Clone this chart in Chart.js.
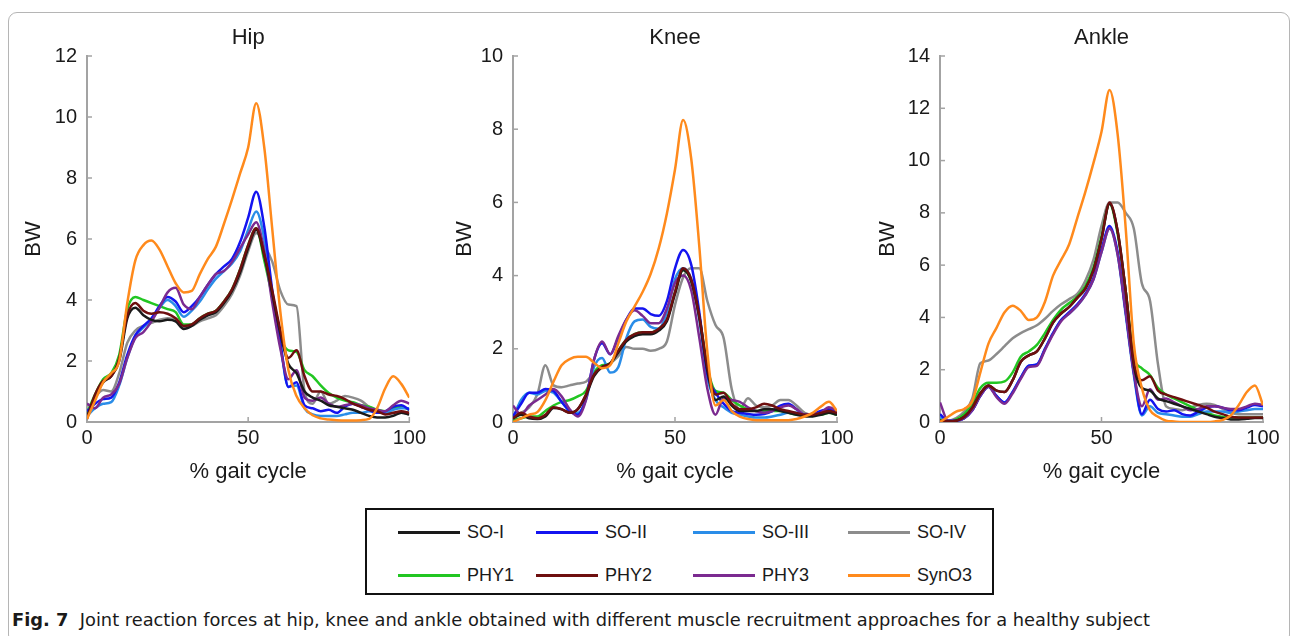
<!DOCTYPE html>
<html>
<head>
<meta charset="utf-8">
<script src="https://cdn.jsdelivr.net/npm/chart.js"></script>
<style>
  body { margin: 0; width: 1295px; height: 636px; background: #fff; position: relative; overflow: hidden;
         font-family: "Liberation Sans", Arial, sans-serif; color: #1a1a1a; }
  .frame { position: absolute; left: 8px; top: 12px; width: 1280px; height: 630px;
           border: 1px solid #b5b5b5; border-radius: 9px; }
  .panel { position: absolute; top: 0; }
  #legendBox { position: absolute; left: 365px; top: 508px; width: 629px; height: 87px;
               box-sizing: border-box; border: 2.5px solid #111; }
  .swatch { position: absolute; height: 3px; width: 62px; }
  .lbl { position: absolute; font-size: 18px; line-height: 20px; white-space: nowrap; }
  #caption { position: absolute; left: 12px; top: 608px; font-size: 18px; line-height: 24px; white-space: nowrap;
             font-family: "Liberation Sans Narrow", "DejaVu Sans Condensed", "Liberation Sans", sans-serif;
             transform-origin: 0 0; }
  #caption b { font-weight: bold; }
</style>
</head>
<body>
<div class="frame"></div>
<canvas id="hipChart" class="panel" style="left:0px" width="430" height="500"></canvas>
<canvas id="kneeChart" class="panel" style="left:430px" width="430" height="500"></canvas>
<canvas id="ankleChart" class="panel" style="left:860px" width="435" height="500"></canvas>
<div id="legendBox"></div>
<div id="legendItems"></div>
<div id="caption"><b>Fig. 7</b>&nbsp;&nbsp;Joint reaction forces at hip, knee and ankle obtained with different muscle recruitment approaches for a healthy subject</div>

<script>
// % gait cycle (shared x positions)
const gaitPct = [0, 2.5, 5, 7.5, 10, 12.5, 15, 17.5, 20, 22.5, 25, 27.5, 30, 32.5, 35, 37.5, 40, 42.5, 45, 47.5,
  50, 52.5, 55, 57.5, 60, 62.5, 65, 67.5, 70, 72.5, 75, 77.5, 80, 82.5, 85, 87.5, 90, 92.5, 95, 97.5, 100];

const seriesNames = ['SO-I', 'SO-II', 'SO-III', 'SO-IV', 'PHY1', 'PHY2', 'PHY3', 'SynO3'];
const seriesColors = ['#1a1a1a', '#1414f0', '#2a8de8', '#8c8c8c', '#22c622', '#6e0f0f', '#7b2a90', '#ff8a1c'];
const drawOrder = [3, 5, 6, 8, 7, 2, 4, 1];

// Hip (BW)
const hipSO1 = [0.15,0.85,1.3,1.5,2.0, 3.4,3.75,3.5,3.35,3.3, 3.35,3.3,3.05,3.15,3.35, 3.5,3.6,3.9,4.3,4.9,
  5.7,6.3,5.45,4.2,2.9, 1.9,1.6,1.0,0.8,0.7, 0.55,0.5,0.45,0.4,0.3, 0.2,0.15,0.15,0.2,0.3, 0.25];
const hipSO2 = [0.35,0.6,0.75,0.8,1.3, 2.2,2.85,3.15,3.4,3.8, 4.1,3.95,3.6,3.8,4.1, 4.5,4.85,5.1,5.35,5.9,
  6.7,7.55,6.4,4.3,2.6, 1.15,1.3,0.55,0.45,0.35, 0.4,0.3,0.5,0.6,0.5, 0.4,0.3,0.35,0.5,0.55, 0.4];
const hipSO3 = [0.2,0.45,0.6,0.65,1.2, 2.1,2.8,3.1,3.35,3.75, 4.0,3.8,3.45,3.65,3.95, 4.35,4.7,4.95,5.2,5.6,
  6.3,6.9,6.0,4.1,2.5, 1.15,1.2,0.45,0.25,0.2, 0.2,0.2,0.25,0.3,0.3, 0.35,0.3,0.3,0.4,0.45, 0.45];
const hipSO4 = [0.3,0.8,1.05,1.0,1.6, 2.6,3.0,3.15,3.25,3.35, 3.4,3.35,3.1,3.15,3.3, 3.4,3.5,3.8,4.2,4.8,
  5.6,6.2,5.8,5.25,4.3, 3.85,3.8,1.0,0.6,1.0, 0.6,0.7,0.85,0.8,0.7, 0.5,0.35,0.3,0.28,0.3, 0.25];
const hipPHY1 = [0.3,0.9,1.4,1.6,2.2, 3.7,4.1,4.0,3.9,3.8, 3.7,3.6,3.2,3.2,3.4, 3.55,3.65,3.95,4.35,5.0,
  5.8,6.35,5.3,4.1,2.8, 2.35,2.3,1.7,1.5,1.2, 0.95,0.8,0.7,0.65,0.55, 0.5,0.4,0.35,0.45,0.5, 0.4];
const hipPHY2 = [0.1,0.9,1.35,1.5,2.1, 3.5,3.9,3.65,3.55,3.6, 3.55,3.4,3.15,3.2,3.4, 3.55,3.65,3.95,4.35,5.0,
  5.8,6.35,5.5,4.3,3.0, 2.1,2.35,1.5,1.0,1.0, 0.9,0.85,0.75,0.6,0.5, 0.4,0.35,0.25,0.3,0.35, 0.3];
const hipPHY3 = [0.6,0.45,0.8,0.9,1.25, 2.1,2.75,2.95,3.3,3.75, 4.25,4.4,3.85,3.7,4.1, 4.5,4.85,4.95,5.25,5.7,
  6.15,6.55,5.6,3.9,2.4, 1.4,1.7,0.8,0.7,0.8, 0.6,0.5,0.55,0.6,0.55, 0.45,0.4,0.35,0.55,0.7, 0.6];
const hipSynO3 = [0.1,0.7,1.3,1.6,2.0, 3.9,5.3,5.8,5.95,5.65, 5.1,4.55,4.25,4.3,4.85, 5.35,5.75,6.5,7.3,8.15,
  9.0,10.45,9.0,6.3,3.6, 1.7,0.85,0.45,0.22,0.12, 0.08,0.06,0.05,0.05,0.06, 0.1,0.45,1.1,1.5,1.25, 0.8];

// Knee (BW)
const kneeSO1 = [0.1,0.2,0.1,0.08,0.15, 0.38,0.35,0.25,0.35,0.72, 1.25,1.5,1.6,1.9,2.2, 2.35,2.4,2.4,2.5,2.75,
  3.5,4.15,3.85,2.85,1.4, 0.6,0.7,0.45,0.3,0.3, 0.3,0.35,0.35,0.3,0.25, 0.2,0.15,0.15,0.2,0.25, 0.2];
const kneeSO2 = [0.15,0.5,0.8,0.8,0.9, 0.85,0.55,0.3,0.2,0.65, 1.7,2.15,1.85,2.3,2.8, 3.1,3.1,2.95,2.9,3.3,
  4.2,4.7,4.3,3.0,1.3, 0.8,0.5,0.3,0.25,0.22, 0.2,0.22,0.3,0.45,0.5, 0.35,0.2,0.22,0.3,0.35, 0.25];
const kneeSO3 = [0.1,0.6,0.8,0.75,0.85, 0.8,0.55,0.3,0.25,0.6, 1.5,1.75,1.35,1.5,2.3, 2.75,2.8,2.6,2.55,3.0,
  3.9,4.2,3.9,2.8,1.2, 0.6,0.4,0.25,0.2,0.15, 0.12,0.12,0.15,0.2,0.25, 0.25,0.2,0.2,0.25,0.3, 0.25];
const kneeSO4 = [0.2,0.25,0.4,0.75,1.55, 1.0,0.95,1.0,1.05,1.1, 1.35,1.5,1.6,1.8,2.05, 2.0,2.0,1.95,2.0,2.2,
  3.2,3.95,4.2,4.2,3.3, 2.65,2.3,0.9,0.35,0.65, 0.45,0.4,0.45,0.6,0.6, 0.45,0.25,0.2,0.22,0.25, 0.27];
const kneePHY1 = [0.05,0.1,0.15,0.15,0.3, 0.45,0.55,0.6,0.7,0.85, 1.35,1.55,1.6,1.95,2.25, 2.4,2.45,2.45,2.55,2.8,
  3.55,4.15,3.85,2.9,1.5, 0.85,0.8,0.6,0.45,0.35, 0.3,0.3,0.3,0.3,0.25, 0.2,0.2,0.2,0.2,0.25, 0.2];
const kneePHY2 = [0.1,0.25,0.15,0.1,0.2, 0.4,0.35,0.25,0.35,0.75, 1.3,1.5,1.6,1.95,2.25, 2.4,2.45,2.45,2.55,2.8,
  3.55,4.2,3.9,2.9,1.5, 0.75,0.8,0.5,0.35,0.35, 0.4,0.5,0.45,0.35,0.3, 0.25,0.2,0.2,0.25,0.3, 0.25];
const kneePHY3 = [0.45,0.2,0.45,0.6,0.75, 0.9,0.7,0.35,0.15,0.6, 1.7,2.2,1.85,2.35,2.8, 3.05,2.9,2.7,2.7,3.1,
  3.8,4.0,3.6,2.3,0.9, 0.2,0.65,0.6,0.55,0.4, 0.3,0.25,0.3,0.4,0.45, 0.35,0.2,0.22,0.25,0.4, 0.3];
const kneeSynO3 = [0,0.1,0.2,0.27,0.6, 1.1,1.55,1.72,1.78,1.78, 1.62,1.47,1.55,2.15,2.75, 3.15,3.55,4.05,4.75,5.7,
  6.9,8.25,7.2,4.8,1.9, 0.45,0.6,0.3,0.15,0.08, 0.05,0.05,0.05,0.05,0.05, 0.08,0.15,0.25,0.42,0.55, 0.3];

// Ankle (BW)
const ankleSO1 = [0.05,0.02,0.05,0.2,0.55, 1.1,1.4,1.2,1.15,1.6, 2.3,2.55,2.7,3.2,3.8, 4.15,4.4,4.75,5.1,5.8,
  7.0,8.35,7.3,5.0,2.2, 1.3,1.2,0.9,0.8,0.7, 0.6,0.5,0.4,0.3,0.2, 0.15,0.1,0.1,0.12,0.15, 0.15];
const ankleSO2 = [0.3,0.05,0.05,0.15,0.45, 1.0,1.35,1.0,0.75,1.15, 1.7,2.15,2.2,2.8,3.4, 3.9,4.2,4.5,4.9,5.5,
  6.6,7.5,6.5,4.2,1.9, 0.3,0.85,0.5,0.4,0.45, 0.3,0.25,0.4,0.55,0.6, 0.55,0.45,0.45,0.55,0.65, 0.6];
const ankleSO3 = [0.2,0.05,0.05,0.15,0.45, 1.0,1.35,1.0,0.75,1.15, 1.7,2.15,2.2,2.8,3.4, 3.9,4.15,4.45,4.85,5.45,
  6.5,7.4,6.4,4.1,1.8, 0.25,0.6,0.35,0.3,0.25, 0.2,0.2,0.3,0.4,0.4, 0.4,0.35,0.4,0.45,0.5, 0.5];
const ankleSO4 = [0.05,0.05,0.15,0.4,0.9, 2.25,2.35,2.6,2.9,3.2, 3.4,3.55,3.7,3.95,4.25, 4.5,4.7,4.9,5.4,6.2,
  7.5,8.4,8.4,8.0,7.4, 5.3,4.65,2.2,0.6,0.5, 0.45,0.55,0.65,0.7,0.65, 0.5,0.35,0.3,0.3,0.3, 0.3];
const anklePHY1 = [0.1,0.05,0.1,0.3,0.7, 1.3,1.5,1.5,1.55,1.9, 2.5,2.7,2.95,3.4,3.9, 4.3,4.55,4.8,5.2,5.9,
  7.1,8.35,7.2,5.0,2.5, 2.05,1.8,1.3,1.05,0.9, 0.75,0.6,0.45,0.35,0.25, 0.2,0.17,0.17,0.17,0.17, 0.17];
const anklePHY2 = [0.05,0.02,0.05,0.2,0.55, 1.1,1.4,1.2,1.15,1.6, 2.3,2.55,2.7,3.2,3.8, 4.15,4.4,4.75,5.1,5.8,
  7.0,8.4,7.3,5.0,2.3, 1.6,1.75,1.2,1.05,0.95, 0.85,0.75,0.65,0.55,0.4, 0.3,0.2,0.17,0.17,0.17, 0.17];
const anklePHY3 = [0.75,0.05,0.05,0.15,0.45, 1.0,1.35,0.95,0.7,1.1, 1.65,2.1,2.15,2.75,3.35, 3.85,4.15,4.45,4.85,5.45,
  6.5,7.4,6.4,4.2,1.9, 0.6,1.25,0.85,0.9,0.75, 0.6,0.45,0.5,0.6,0.6, 0.55,0.5,0.5,0.6,0.7, 0.65];
const ankleSynO3 = [0,0.2,0.4,0.5,0.8, 1.9,3.0,3.6,4.2,4.45, 4.25,3.9,4.0,4.6,5.6, 6.2,6.8,7.8,8.8,9.9,
  11.1,12.7,11.0,7.4,3.0, 1.3,0.45,0.2,0.05,0.02, 0,0,0,0,0.02, 0.08,0.25,0.65,1.15,1.4, 0.65];

const xTicks = [0, 50, 100];
const axisGrey = '#a3a3a3';
const fontFamily = '"Liberation Sans", Arial, sans-serif';

Chart.defaults.font.family = fontFamily;
Chart.defaults.color = '#1a1a1a';

// small inward tick marks + panel title centred on the plot area
const panelDecor = {
  id: 'panelDecor',
  beforeDatasetsDraw(chart) {
    const { ctx, chartArea, scales: { x, y } } = chart;
    ctx.save();
    ctx.strokeStyle = axisGrey;
    ctx.lineWidth = 1.5;
    y.ticks.forEach(t => {
      const py = y.getPixelForValue(t.value);
      ctx.beginPath(); ctx.moveTo(chartArea.left, py); ctx.lineTo(chartArea.left + 5, py); ctx.stroke();
    });
    x.ticks.forEach(t => {
      const px = x.getPixelForValue(t.value);
      ctx.beginPath(); ctx.moveTo(px, chartArea.bottom); ctx.lineTo(px, chartArea.bottom - 5); ctx.stroke();
    });
    ctx.restore();
  },
  afterDraw(chart, args, opts) {
    const { ctx, chartArea } = chart;
    ctx.save();
    ctx.fillStyle = '#1a1a1a';
    ctx.font = '22px ' + fontFamily;
    ctx.textAlign = 'center';
    ctx.textBaseline = 'middle';
    ctx.fillText(opts.text, (chartArea.left + chartArea.right) / 2, 38);
    ctx.restore();
  }
};

function makePanel(id, title, yMax, series, padLeft, padRight, yAxisWidth) {
  new Chart(document.getElementById(id), {
    type: 'line',
    data: {
      datasets: seriesNames.map((name, i) => ({
        label: name,
        data: gaitPct.map((x, j) => ({ x: x, y: series[i][j] })),
        borderColor: seriesColors[i],
        borderWidth: 2.5,
        pointRadius: 0,
        fill: false,
        cubicInterpolationMode: 'monotone',
        order: drawOrder[i]
      }))
    },
    options: {
      responsive: false,
      animation: false,
      layout: { padding: { left: padLeft, right: padRight, top: 56, bottom: 8 } },
      plugins: {
        legend: { display: false },
        tooltip: { enabled: false },
        panelDecor: { text: title }
      },
      scales: {
        x: {
          type: 'linear', min: 0, max: 100,
          afterBuildTicks: s => { s.ticks = xTicks.map(v => ({ value: v })); },
          ticks: { padding: 4, font: { size: 20 }, color: '#1a1a1a' },
          grid: { display: false, drawTicks: false },
          border: { color: axisGrey, width: 2 },
          title: { display: true, text: '% gait cycle', font: { size: 22 }, color: '#1a1a1a', padding: { top: 0, bottom: 7 } },
          afterFit: s => { s.height = 70; }
        },
        y: {
          min: 0, max: yMax,
          ticks: { stepSize: 2, padding: 10, font: { size: 20 }, color: '#1a1a1a' },
          grid: { display: false, drawTicks: false },
          border: { color: axisGrey, width: 2 },
          title: { display: true, text: 'BW', font: { size: 22 }, color: '#1a1a1a', padding: { top: 4, bottom: 0 } },
          afterFit: s => { s.width = yAxisWidth; }
        }
      }
    },
    plugins: [panelDecor]
  });
}

makePanel('hipChart', 'Hip', 12,
  [hipSO1, hipSO2, hipSO3, hipSO4, hipPHY1, hipPHY2, hipPHY3, hipSynO3], 17, 20, 70);
makePanel('kneeChart', 'Knee', 10,
  [kneeSO1, kneeSO2, kneeSO3, kneeSO4, kneePHY1, kneePHY2, kneePHY3, kneeSynO3], 18, 23, 65);
makePanel('ankleChart', 'Ankle', 14,
  [ankleSO1, ankleSO2, ankleSO3, ankleSO4, anklePHY1, anklePHY2, anklePHY3, ankleSynO3], 11, 32, 69);

// shared legend, 4 columns x 2 rows
const legendColX = [398, 536, 693, 848];
const legendRowY = [532, 575];
const legendItems = document.getElementById('legendItems');
seriesNames.forEach((name, i) => {
  const cx = legendColX[i % 4], cy = legendRowY[Math.floor(i / 4)];
  const sw = document.createElement('div');
  sw.className = 'swatch';
  sw.style.left = cx + 'px';
  sw.style.top = (cy - 1.5) + 'px';
  sw.style.background = seriesColors[i];
  legendItems.appendChild(sw);
  const lb = document.createElement('div');
  lb.className = 'lbl';
  lb.style.left = (cx + 69) + 'px';
  lb.style.top = (cy - 10) + 'px';
  lb.textContent = name;
  legendItems.appendChild(lb);
});

// stretch caption to the width it spans in the figure
const cap = document.getElementById('caption');
const capW = cap.getBoundingClientRect().width;
cap.style.transform = 'scaleX(' + (1138 / capW) + ')';
</script>
</body>
</html>
